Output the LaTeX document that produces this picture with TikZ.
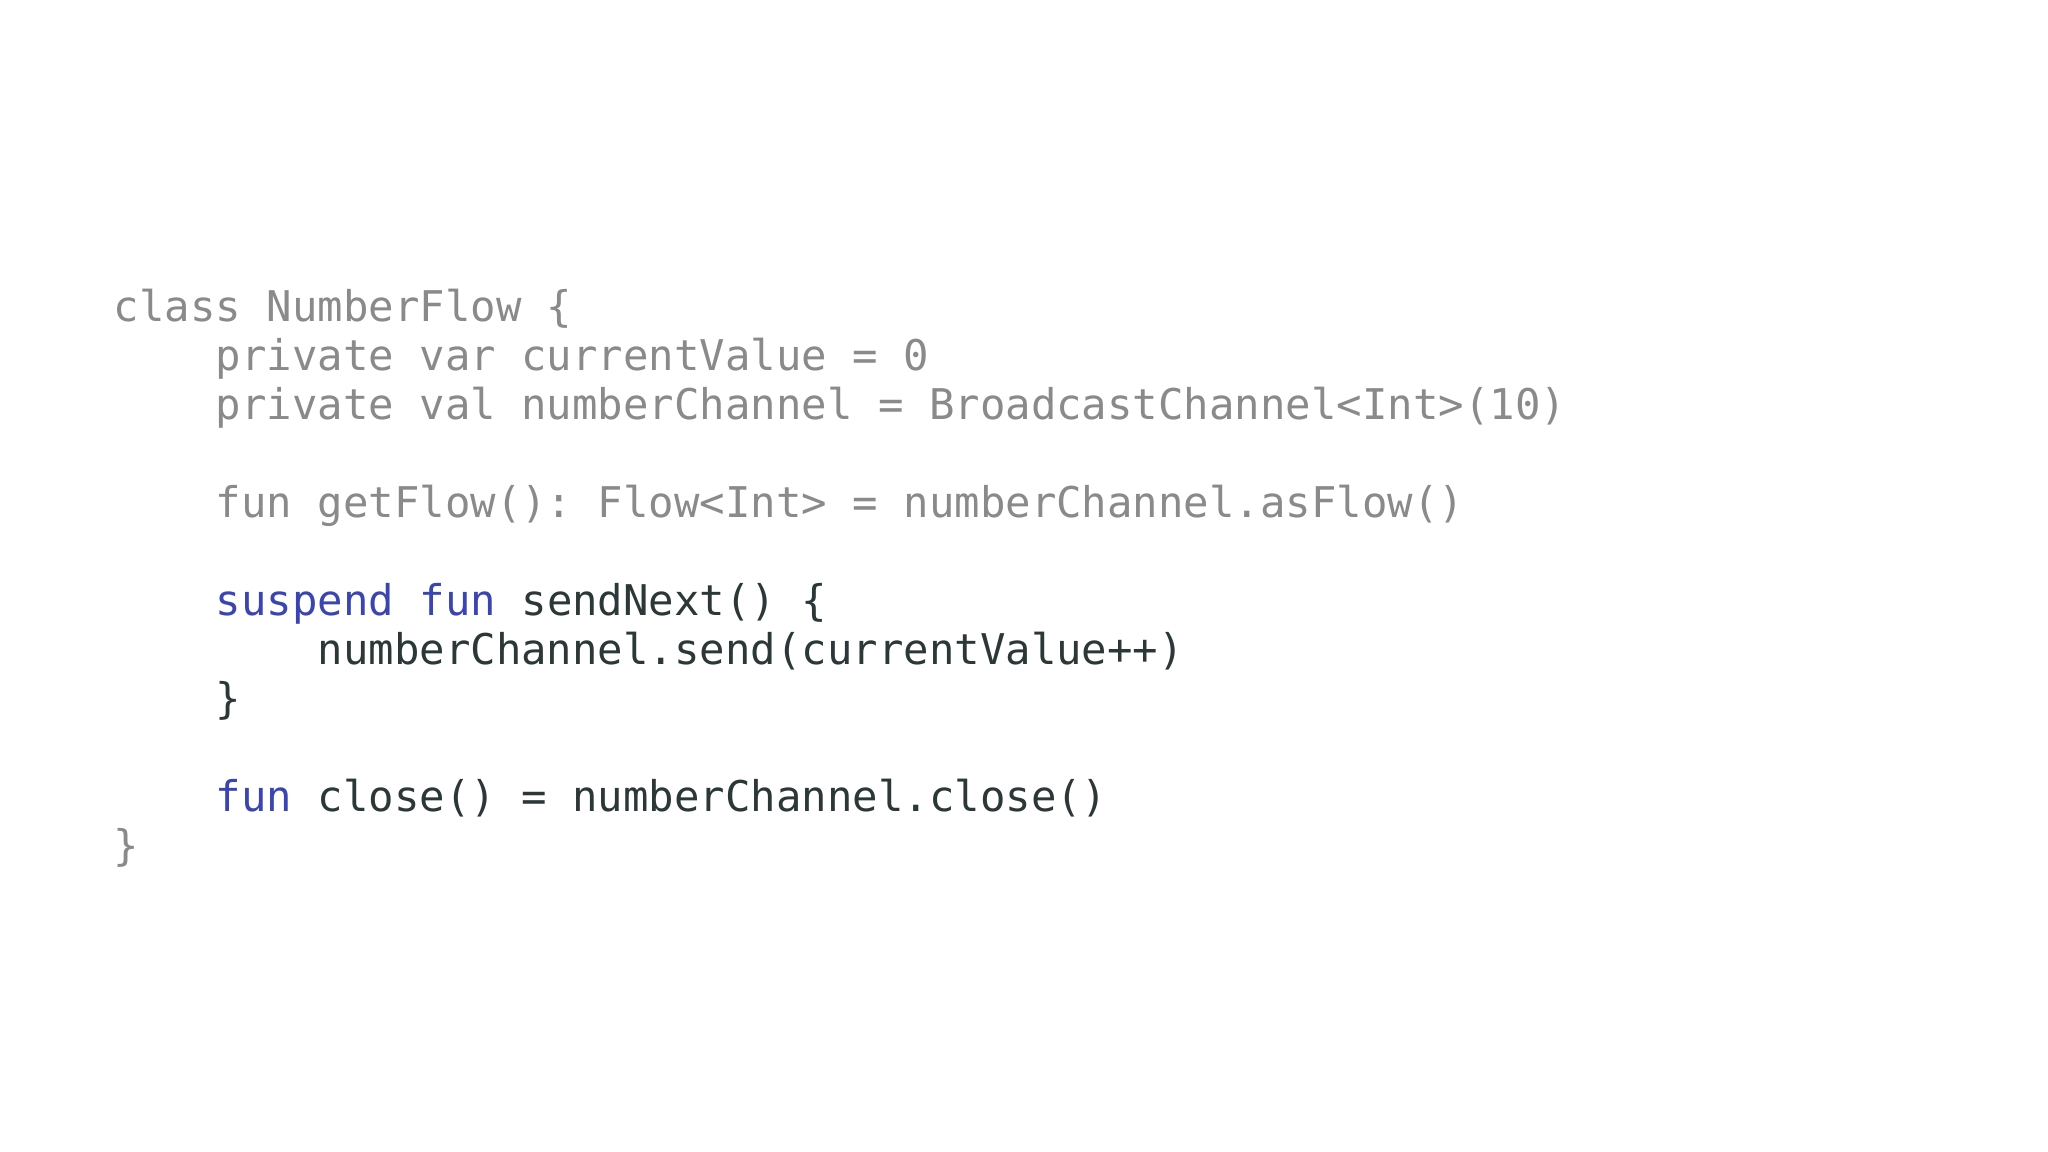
\documentclass[tikz,border=0pt]{standalone}
\usepackage{fontspec}
\setmonofont{DejaVu Sans Mono}
\definecolor{cgray}{HTML}{8A8A8A}
\definecolor{cblue}{HTML}{3B45B2}
\definecolor{cdark}{HTML}{2C3838}
\begin{document}
\begin{tikzpicture}[x=1pt,y=1pt,
  code/.style={anchor=base west,inner sep=0pt,font=\ttfamily\fontsize{32.4}{37.5}\selectfont}]
\useasboundingbox[fill=white] (0,0) rectangle (1568,882);
\def\ln#1{882-246-37.5*#1}
\node[code,text=cgray] (l0) at (87,{\ln{0}}) {class NumberFlow \{};
\node[code,text=cgray] (l1) at (87,{\ln{1}}) {\ \ \ \ private var currentValue = 0};
\node[code,text=cgray] (l2) at (87,{\ln{2}}) {\ \ \ \ private val numberChannel = BroadcastChannel<Int>(10)};
\node[code,text=cgray] (l4) at (87,{\ln{4}}) {\ \ \ \ fun getFlow(): Flow<Int> = numberChannel.asFlow()};
\node[code,text=cdark] (l6) at (87,{\ln{6}}) {\ \ \ \ \textcolor{cblue}{suspend fun} sendNext() \{};
\node[code,text=cdark] (l7) at (87,{\ln{7}}) {\ \ \ \ \ \ \ \ numberChannel.send(currentValue++)};
\node[code,text=cdark] (l8) at (87,{\ln{8}}) {\ \ \ \ \}};
\node[code,text=cdark] (l10) at (87,{\ln{10}}) {\ \ \ \ \textcolor{cblue}{fun} close() = numberChannel.close()};
\node[code,text=cgray] (l11) at (87,{\ln{11}}) {\}};
\end{tikzpicture}
\end{document}
